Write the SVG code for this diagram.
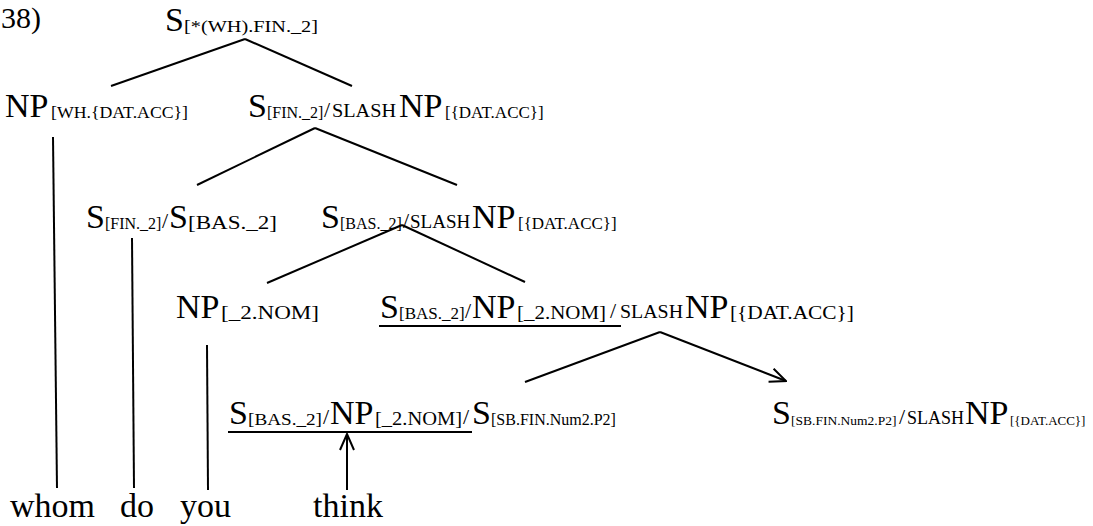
<svg xmlns="http://www.w3.org/2000/svg" width="1093" height="526" viewBox="0 0 1093 526">
  <style>
    text { font-family: "Liberation Serif", "Times New Roman", serif; fill: #000; }
    .big { font-size: 34px; }
    .s13 { font-size: 13.5px; }
    .s12 { font-size: 13px; }
    .s16 { font-size: 16px; }
    .s17 { font-size: 17px; }
    .s18 { font-size: 18px; }
    .s19 { font-size: 19px; }
    .sc { font-size: 19px; }
    .sc18 { font-size: 18px; }
    .sl { font-size: 22px; }
    .word { font-size: 34px; }
    .num { font-size: 30px; }
    .edge { stroke: #000; stroke-width: 2; fill: none; }
  </style>
  <defs>
    <marker id="head" viewBox="0 0 18 16" refX="17" refY="8" markerWidth="18" markerHeight="16" markerUnits="userSpaceOnUse" orient="auto">
      <path d="M1,1 L17,8 L1,15" stroke="#000" stroke-width="2" fill="none"/>
    </marker>
  </defs>
  <rect width="1093" height="526" fill="#fff"/>

  <text class="num" x="1" y="28">38)</text>

  <g id="connectors">
    <!-- root -->
    <line class="edge" x1="245" y1="39" x2="111" y2="86"/>
    <line class="edge" x1="245" y1="39" x2="352" y2="86"/>
    <!-- S[FIN._2]/SLASH NP -->
    <line class="edge" x1="315" y1="128" x2="197" y2="185"/>
    <line class="edge" x1="315" y1="128" x2="457" y2="185"/>
    <!-- S[BAS._2]/SLASH NP -->
    <line class="edge" x1="402" y1="225" x2="267" y2="283"/>
    <line class="edge" x1="402" y1="225" x2="525" y2="282"/>
    <!-- S[BAS._2]/NP/SLASH NP -->
    <line class="edge" x1="660" y1="332" x2="525" y2="382"/>
    <line class="edge" x1="660" y1="332" x2="786" y2="381" marker-end="url(#head)"/>
    <!-- lexical attachments -->
    <line class="edge" x1="53" y1="137" x2="57" y2="488"/>
    <line class="edge" x1="132" y1="238" x2="134" y2="488"/>
    <line class="edge" x1="207" y1="345" x2="208" y2="490"/>
    <line class="edge" x1="347" y1="490" x2="347" y2="434" marker-end="url(#head)"/>
    <!-- underlines -->
    <line class="edge" x1="379" y1="326" x2="621" y2="326"/>
    <line class="edge" x1="228" y1="432" x2="472" y2="432"/>
  </g>

  <g id="n-root">
    <text class="big" x="165" y="31">S</text>
    <text class="s17" x="184" y="32" textLength="134" lengthAdjust="spacingAndGlyphs">[*(WH).FIN._2]</text>
  </g>

  <g id="n-wh">
    <text class="big" x="5" y="117">NP</text>
    <text class="s17" x="51" y="118" textLength="137" lengthAdjust="spacingAndGlyphs">[WH.{DAT.ACC}]</text>
  </g>

  <g id="n-fin-slash">
    <text class="big" x="248" y="117">S</text>
    <text class="s16" x="267" y="118">[FIN._2]</text>
    <text class="sl" x="324" y="117">/</text>
    <text class="sc" x="332" y="117" textLength="64" lengthAdjust="spacingAndGlyphs">SLASH</text>
    <text class="big" x="399" y="117">NP</text>
    <text class="s17" x="445" y="118">[{DAT.ACC}]</text>
  </g>

  <g id="n-do">
    <text class="big" x="86" y="228">S</text>
    <text class="s16" x="105" y="229">[FIN._2]</text>
    <text class="sl" x="162" y="228">/</text>
    <text class="big" x="169" y="228">S</text>
    <text class="s19" x="188" y="229" textLength="89" lengthAdjust="spacingAndGlyphs">[BAS._2]</text>
  </g>

  <g id="n-bas-slash">
    <text class="big" x="321" y="228">S</text>
    <text class="s16" x="340" y="229">[BAS._2]</text>
    <text class="sl" x="403" y="228">/</text>
    <text class="sc" x="410" y="228">SLASH</text>
    <text class="big" x="472" y="228">NP</text>
    <text class="s17" x="518" y="229">[{DAT.ACC}]</text>
  </g>

  <g id="n-you">
    <text class="big" x="176" y="318">NP</text>
    <text class="s19" x="221" y="319" textLength="98" lengthAdjust="spacingAndGlyphs">[_2.NOM]</text>
  </g>

  <g id="n-vp-slash">
    <text class="big" x="380" y="318">S</text>
    <text class="s17" x="399" y="319">[BAS._2]</text>
    <text class="sl" x="465" y="318">/</text>
    <text class="big" x="472" y="318">NP</text>
    <text class="s18" x="517" y="319" textLength="89" lengthAdjust="spacingAndGlyphs">[_2.NOM]</text>
    <text class="sl" x="610" y="318">/</text>
    <text class="sc" x="620" y="318" textLength="63" lengthAdjust="spacingAndGlyphs">SLASH</text>
    <text class="big" x="685" y="318">NP</text>
    <text class="s18" x="730" y="319" textLength="124" lengthAdjust="spacingAndGlyphs">[{DAT.ACC}]</text>
  </g>

  <g id="n-think">
    <text class="big" x="229" y="424">S</text>
    <text class="s17" x="248" y="425" textLength="74" lengthAdjust="spacingAndGlyphs">[BAS._2]</text>
    <text class="sl" x="323" y="424">/</text>
    <text class="big" x="330" y="424">NP</text>
    <text class="s18" x="375" y="425" textLength="87" lengthAdjust="spacingAndGlyphs">[_2.NOM]</text>
    <text class="sl" x="463" y="424">/</text>
    <text class="big" x="472" y="424">S</text>
    <text class="s16" x="491" y="425">[SB.FIN.Num2.P2]</text>
  </g>

  <g id="n-comp-slash">
    <text class="big" x="772" y="424">S</text>
    <text class="s13" x="791" y="425">[SB.FIN.Num2.P2]</text>
    <text class="sl" x="899" y="424">/</text>
    <text class="sc18" x="907" y="424">SLASH</text>
    <text class="big" x="965" y="424">NP</text>
    <text class="s12" x="1010" y="425">[{DAT.ACC}]</text>
  </g>

  <g id="words">
    <text class="word" x="10" y="517">whom</text>
    <text class="word" x="120" y="517">do</text>
    <text class="word" x="180" y="517">you</text>
    <text class="word" x="313" y="517">think</text>
  </g>
</svg>
